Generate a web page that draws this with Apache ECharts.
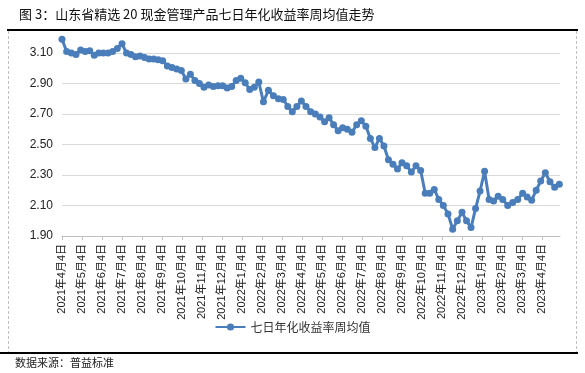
<!DOCTYPE html>
<html>
<head>
<meta charset="utf-8">
<script src="https://cdn.jsdelivr.net/npm/echarts@6/dist/echarts.min.js"></script>
<style>html,body{margin:0;padding:0;background:#fff}#c{width:585px;height:373px}</style>
</head>
<body>
<div id="c"></div>
<script>
// ---- data ----
const titleText = '图 3：山东省精选 20 现金管理产品七日年化收益率周均值走势';
const sourceText = '数据来源：普益标准';
const seriesName = '七日年化收益率周均值';
const startDate = '2021-04-04';   // first weekly observation
const weekStepDays = 7;
const yieldValues = [
  3.19, 3.11, 3.10, 3.09, 3.12, 3.11, 3.115, 3.085, 3.10, 3.10,
  3.10, 3.11, 3.13, 3.16, 3.10, 3.09, 3.075, 3.08, 3.07, 3.06,
  3.06, 3.055, 3.05, 3.015, 3.005, 2.995, 2.985, 2.93, 2.96, 2.92,
  2.90, 2.875, 2.89, 2.88, 2.885, 2.885, 2.87, 2.88, 2.92, 2.935,
  2.905, 2.86, 2.875, 2.91, 2.78, 2.855, 2.82, 2.80, 2.795, 2.75,
  2.715, 2.75, 2.785, 2.75, 2.715, 2.70, 2.68, 2.65, 2.675, 2.63,
  2.59, 2.61, 2.60, 2.58, 2.63, 2.655, 2.62, 2.54, 2.48, 2.54,
  2.49, 2.40, 2.37, 2.34, 2.38, 2.36, 2.32, 2.36, 2.33, 2.18,
  2.18, 2.205, 2.14, 2.10, 2.045, 1.945, 2.00, 2.055, 2.00, 1.955,
  2.08, 2.195, 2.325, 2.14, 2.13, 2.16, 2.14, 2.10, 2.12, 2.14,
  2.18, 2.155, 2.135, 2.20, 2.26, 2.315, 2.255, 2.22, 2.24
];
const yTicks = { min: 1.9, max: 3.1, interval: 0.2 };
const xMonthCount = 24.9;  // axis span in months from 2021-04-04

// ---- dates -> month position (ticks at the 4th of each month) ----
const DAY = 86400000;
const s = new Date(startDate + 'T00:00:00Z');
const dates = yieldValues.map((_, i) => new Date(s.getTime() + i * weekStepDays * DAY));
function monthPos(d) {
  let y = d.getUTCFullYear(), m = d.getUTCMonth();
  if (d.getUTCDate() < 4) { m -= 1; if (m < 0) { m = 11; y -= 1; } }
  const a = Date.UTC(y, m, 4), b = Date.UTC(y, m + 1, 4);
  const k = (y - 2021) * 12 + (m - 3);
  return k + (d.getTime() - a) / (b - a);
}
const lineData = yieldValues.map((v, i) => [monthPos(dates[i]), v]);
function monthLabel(k) {
  const t = 3 + k;
  return (2021 + Math.floor(t / 12)) + '年' + (t % 12 + 1) + '月4日';
}

const chart = echarts.init(document.getElementById('c'));
const FONT = 'Liberation Sans, Noto Sans CJK SC, sans-serif';
const CJK = 'Noto Sans CJK SC, sans-serif';
chart.setOption({
  animation: false,
  title: {
    text: titleText, left: 14, top: 3,
    textStyle: { fontSize: 13, fontWeight: 'normal', color: '#111', fontFamily: CJK }
  },
  grid: { left: 62, right: 25, top: 53, bottom: 137 },
  legend: {
    data: [seriesName], left: 'center', top: 316,
    itemWidth: 30, itemHeight: 9, itemGap: 6,
    textStyle: { fontSize: 12, color: '#333', fontFamily: CJK }
  },
  xAxis: {
    type: 'value', min: 0, max: xMonthCount, interval: 1,
    axisLine: { show: true, lineStyle: { color: '#bfbfbf', width: 1 } },
    axisTick: { show: true, length: 4, lineStyle: { color: '#bfbfbf' } },
    splitLine: { show: false },
    axisLabel: {
      rotate: 90, fontSize: 11, color: '#222', fontFamily: FONT, margin: 8,
      showMaxLabel: false,
      formatter: v => Math.abs(v - Math.round(v)) < 1e-6 ? monthLabel(Math.round(v)) : ''
    }
  },
  yAxis: {
    type: 'value', min: yTicks.min, max: yTicks.max, interval: yTicks.interval,
    axisLine: { show: false }, axisTick: { show: false },
    splitLine: { lineStyle: { color: '#d9d9d9', width: 1 } },
    axisLabel: { fontSize: 12, color: '#222', fontFamily: FONT, margin: 9,
      formatter: v => v.toFixed(2) }
  },
  series: [{
    name: seriesName, type: 'line', data: lineData, clip: false,
    symbol: 'circle', symbolSize: 7,
    lineStyle: { color: '#4a7ebb', width: 3 },
    itemStyle: { color: '#4a7ebb' }
  }],
  graphic: [
    { type: 'line', shape: { x1: 7, y1: 30, x2: 578, y2: 30 }, style: { stroke: '#000', lineWidth: 2 } },
    { type: 'line', shape: { x1: 0, y1: 353, x2: 578, y2: 353 }, style: { stroke: '#000', lineWidth: 2 } },
    { type: 'line', shape: { x1: 8.5, y1: 31, x2: 8.5, y2: 352 }, style: { stroke: '#c0c0c0', lineWidth: 1, lineDash: [3, 2] } },
    { type: 'line', shape: { x1: 576.5, y1: 31, x2: 576.5, y2: 352 }, style: { stroke: '#c0c0c0', lineWidth: 1, lineDash: [3, 2] } },
    { type: 'text', left: 15, top: 357, style: { text: sourceText, fontSize: 11, fill: '#222', fontFamily: CJK } }
  ]
});
</script>
</body>
</html>
